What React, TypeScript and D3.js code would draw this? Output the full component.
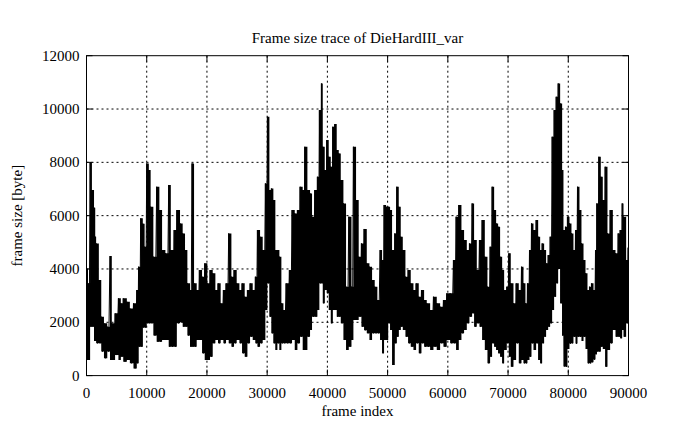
import React from "react";
import * as d3 from "d3";

const frames = [0,250,600,900,1250,1450,1600,2050,2450,2900,3450,3900,4200,4750,5300,5700,6100,6700,7200,7800,8350,8650,9000,9350,9650,10000,10350,10650,11100,11650,12100,12550,13100,13650,14000,14550,15000,15530,15970,16360,16750,17190,17520,17860,18300,18740,19190,19630,20070,20510,20960,21400,21840,22280,22730,23170,23610,24060,24500,24940,25390,25830,26270,26720,27160,27600,28040,28380,28820,29260,29700,30040,30370,30700,31030,31360,31700,32030,32360,32700,33140,33690,34130,34580,35020,35460,35900,36240,36680,37120,37450,37900,38340,38670,39010,39230,39560,39890,40220,40560,40890,41220,41550,41890,42220,42660,43100,43550,44000,44320,44760,45200,45650,46090,46540,46980,47420,47860,48300,48750,49080,49410,49750,50100,50410,50740,51190,51520,51850,52180,52520,52960,53400,53840,54290,54730,55170,55620,56060,56500,57060,57610,58160,58720,59270,59820,60380,60930,61370,61820,62260,62700,63150,63590,64030,64360,64810,65250,65690,66140,66580,67020,67350,67690,68020,68350,68680,69020,69350,69790,70120,70450,70900,71340,71780,72230,72560,72890,73220,73560,73890,74220,74660,75000,75330,75660,75990,76320,76660,76990,77320,77650,77990,78320,78650,78980,79200,79530,79860,80200,80530,80860,81200,81530,81860,82190,82530,82860,83190,83520,83850,84190,84520,84740,85070,85400,85730,86120,86510,86950,87400,87840,88280,88610,88950,89170,89610,89940];

const hiVals = [4000,3460,8000,6960,6300,5210,4960,3585,2210,1960,1835,4485,1960,2335,2900,2710,2900,2770,2520,2710,3210,4085,5900,5700,4835,7960,7710,6335,4460,7085,6210,4710,4585,7150,4710,5460,6210,5710,5335,4710,3460,3210,7960,3460,3210,3960,3710,4210,3460,3960,3835,3210,3460,2710,3210,3460,5335,3710,3960,3460,3210,3460,2960,3210,3460,3210,3710,5460,5210,4710,7210,9710,6960,7020,6585,4710,4710,4460,2710,2460,3460,3960,6210,6085,6210,7085,6960,8585,6960,6835,5960,6960,7460,9960,10960,8585,7710,8835,8210,7835,9335,9435,8460,8335,7335,6460,3335,5960,3335,8585,6585,4460,4960,5500,4210,4085,3585,3335,2835,4710,4335,6400,6335,6335,6210,4710,5335,7085,6335,5210,4710,3710,3960,3460,3210,3460,2960,3210,2835,2710,2460,2960,2710,2585,2835,3085,3085,4335,5960,6400,5460,5085,4710,4960,6460,5085,3960,5085,5835,4460,3335,4835,7085,6210,5710,5585,4460,3960,3210,3335,4585,3460,2710,3460,3210,4085,3460,2710,3460,4710,5710,5460,5835,5210,4710,4960,4710,4210,4520,5210,8960,9960,10460,10960,10210,7710,5460,5585,5960,5710,5335,4710,5460,7085,6210,4960,4335,3835,3210,3335,3460,3210,4710,6460,8210,7460,6585,7835,5335,6210,4710,4585,5335,5460,6460,5960,4335,4800];

const loVals = [585,585,1835,1835,1300,1300,1210,1210,900,650,900,585,585,770,585,710,520,585,460,270,460,1085,1085,1800,1800,1960,1960,1960,1500,1270,1270,1335,1335,1085,1085,1085,1960,2000,1835,1835,1500,1085,1085,1085,1335,1335,835,585,585,710,1210,1335,1210,1335,1210,1335,1210,1085,1210,1335,1210,835,710,1210,1460,1335,1210,1085,1210,1335,2460,3460,2210,1585,1210,960,1210,960,1210,1210,1210,1210,1335,960,1210,1460,960,960,1460,1710,2210,2210,2460,3460,3460,2710,3210,3085,2460,1960,2460,2460,2210,2210,1960,1335,960,1085,1335,2085,2085,2210,1835,1700,1585,1335,1585,1585,1585,1335,835,1335,1335,1960,1710,400,1210,1460,1710,1835,1710,1460,1210,1085,960,1210,835,1210,1085,1085,960,1085,960,1210,1085,1335,1210,1210,960,1335,1585,1710,1960,2210,2335,1835,1960,1835,1335,960,460,710,1210,1085,960,835,710,460,960,1210,710,335,585,1210,460,585,460,460,585,710,1210,960,1210,585,460,1210,1460,1710,1835,1960,2460,2960,3460,4000,2710,1500,345,335,1000,1200,1210,1460,1200,1460,1460,1300,1460,1000,460,460,500,600,800,900,900,1085,1000,335,960,1210,1710,1460,1460,1400,1710,1460,1960,1960];

const xTicks = [0,10000,20000,30000,40000,50000,60000,70000,80000,90000];
const yTicks = [0,2000,4000,6000,8000,10000,12000];

const W = 695, H = 429;
const L = 86.5, R = 628.5, T = 55.7, B = 375.6;
const FONT = "'Liberation Serif', 'DejaVu Serif', serif";

export default function App() {
  const x = d3.scaleLinear().domain([0, 90000]).range([L, R]);
  const y = d3.scaleLinear().domain([0, 12000]).range([B, T]);

  const idx = frames.map((_, i) => i).concat([frames.length - 1]);
  const fx = (i: number, k: number) => (k === frames.length ? 90000 : frames[i]);
  const area = d3.area<number>()
    .curve(d3.curveStepAfter)
    .x((i, k) => x(fx(i, k)))
    .y0(i => y(loVals[i]))
    .y1(i => y(hiVals[i]));

  const pts: [number, number][] = [];
  frames.forEach((f, i) => {
    const next = i < frames.length - 1 ? frames[i + 1] : 90000;
    pts.push([f, hiVals[i]]);
    pts.push([(f + next) / 2, loVals[i]]);
  });
  const line = d3.line<[number, number]>().x(d => x(d[0])).y(d => y(d[1]));

  const tick = 6;
  return (
    <svg width={W} height={H} style={{ position: "absolute", left: 0, top: 0, background: "#fff" }}
      fontFamily={FONT}>
      <rect x={0} y={0} width={W} height={H} fill="#fff" />
      {xTicks.slice(1, -1).map(t => (
        <line key={"gx" + t} x1={x(t)} x2={x(t)} y1={T} y2={B} stroke="#000" strokeWidth={1} strokeDasharray="2,3" />
      ))}
      {yTicks.slice(1, -1).map(t => (
        <line key={"gy" + t} x1={L} x2={R} y1={y(t)} y2={y(t)} stroke="#000" strokeWidth={1} strokeDasharray="2,3" />
      ))}
      <path d={area(idx) || ""} fill="#000" stroke="none" />
      <path d={line(pts) || ""} fill="none" stroke="#000" strokeWidth={1} />
      {xTicks.map(t => (
        <g key={"tx" + t}>
          <line x1={x(t)} x2={x(t)} y1={B} y2={B - tick} stroke="#000" />
          <line x1={x(t)} x2={x(t)} y1={T} y2={T + tick} stroke="#000" />
          <text x={x(t)} y={B + 22} textAnchor="middle" fontSize={15}>{t}</text>
        </g>
      ))}
      {yTicks.map(t => (
        <g key={"ty" + t}>
          <line x1={L} x2={L + tick} y1={y(t)} y2={y(t)} stroke="#000" />
          <line x1={R} x2={R - tick} y1={y(t)} y2={y(t)} stroke="#000" />
          <text x={L - 7} y={y(t) + 5} textAnchor="end" fontSize={15}>{t}</text>
        </g>
      ))}
      <rect x={L} y={T} width={R - L} height={B - T} fill="none" stroke="#000" strokeWidth={1} />
      <text x={(L + R) / 2} y={43} textAnchor="middle" fontSize={15}>Frame size trace of DieHardIII_var</text>
      <text x={(L + R) / 2} y={416} textAnchor="middle" fontSize={15}>frame index</text>
      <text transform={`translate(22, ${(T + B) / 2}) rotate(-90)`} textAnchor="middle" fontSize={15}>frame size [byte]</text>
    </svg>
  );
}
